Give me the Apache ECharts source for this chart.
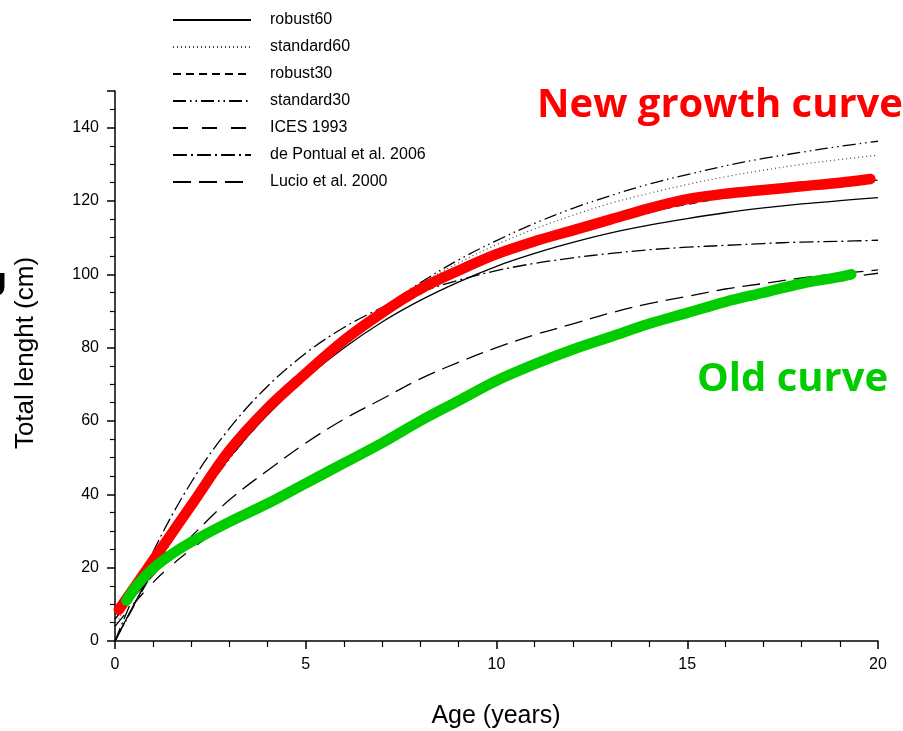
<!DOCTYPE html>
<html><head><meta charset="utf-8">
<script src="https://cdn.jsdelivr.net/npm/echarts@6/dist/echarts.min.js"></script>
<style>html,body{margin:0;padding:0;background:#fff}#c{width:903px;height:731px}</style>
</head><body><div id="c"></div>
<script>
const ages = [0,1,2,3,4,5,6,7,8,9,10,11,12,13,14,15,16,17,18,19,20];
const robust60   = [0,19.5,36,50,61.7,71.6,79.9,87,92.9,97.9,102.2,105.7,108.7,111.3,113.4,115.2,116.8,118.1,119.2,120.1,120.9];
const standard60 = [4,22.4,38.2,52,63.9,74.1,83,90.7,97.4,103.1,108.1,112.4,116.1,119.4,122.1,124.5,126.6,128.4,130,131.3,132.5];
const robust30   = [0,19.4,35.9,49.9,61.9,72.1,80.8,88.3,94.6,100,104.6,108.5,111.8,114.6,117,119.1,120.9,122.4,123.6,124.7,125.7];
const standard30 = [0,18.9,35.4,49.7,62.2,73,82.4,90.6,97.7,103.9,109.2,113.9,118,121.5,124.6,127.2,129.6,131.6,133.3,134.9,136.3];
const ices1993   = [4,16,25,32,37.5,43,48.5,54,60,65.5,71,75.5,79.5,83,86.5,89.5,92.5,95,97,98.8,100.3];
const dePontual  = [0,24.3,43.3,58,69.5,78.5,85.5,90.9,95.1,98.4,101,103,104.5,105.7,106.7,107.4,107.9,108.4,108.8,109,109.3];
const lucio      = [6,18,28.5,38.5,46.5,54,60.5,66,71.5,76,80,83.5,86.5,89.5,92,94,96,97.5,99,100.2,101.2];
const newAges  = [0.1,1,2,3,4,5,6,7,8,9,10,11,12,13,14,15,16,17,18,19,19.8];
const newCurve = [8.5,22,37,52,63.5,73,82,89.5,96,101,105.5,109,112,115,118,120.5,122,123,124,125,126];
const oldAges  = [0.3,0.6,1,1.5,2,3,4,5,6,7,8,9,10,11,12,13,14,15,16,17,18,19,19.3];
const oldCurve = [11,15.5,19.8,23.8,27,32.5,37.5,43,48.5,54,60,65.5,71,75.5,79.5,83,86.5,89.5,92.5,95,97.5,99.3,100];
const xTicks = [0,5,10,15,20];
const yTicks = [0,20,40,60,80,100,120,140];

const pairs = (xs, ys) => xs.map((x, i) => [x, ys[i]]);
const FONT = '"Liberation Sans", Arial, sans-serif';
function blk(name, vals, type, width, color) {
  return {
    name, type: 'line', data: pairs(ages, vals), symbol: 'none',
    smooth: 0.35, z: 3,
    lineStyle: { color: color || '#000', width: width || 1.2, type: type },
    itemStyle: { color: color || '#000' }
  };
}
const chart = echarts.init(document.getElementById('c'), null, { renderer: 'canvas' });
chart.setOption({
  animation: false,
  backgroundColor: '#fff',
  grid: { left: 115, right: 25, top: 91, bottom: 90, containLabel: false },
  legend: {
    data: ['robust60','standard60','robust30','standard30','ICES 1993','de Pontual et al. 2006','Lucio et al. 2000'],
    orient: 'vertical', left: 172, top: 11, padding: 0,
    itemWidth: 78, itemHeight: 14, itemGap: 9, selectedMode: false,
    itemStyle: { opacity: 0, color: 'rgba(0,0,0,0)', borderWidth: 0 },
    textStyle: { fontFamily: FONT, fontSize: 16, color: '#000', lineHeight: 18, padding: [0,0,0,14] }
  },
  xAxis: {
    type: 'value', min: 0, max: 20, interval: 5,
    axisLine: { lineStyle: { color: '#000', width: 1.5 } },
    axisTick: { length: 8, lineStyle: { color: '#000', width: 1.5 } },
    minorTick: { show: true, splitNumber: 5, length: 6, lineStyle: { color: '#000', width: 1.2 } },
    axisLabel: { fontFamily: FONT, fontSize: 16, color: '#000', margin: 16,
      formatter: v => xTicks.includes(v) ? String(v) : '' },
    splitLine: { show: false }
  },
  yAxis: {
    type: 'value', min: 0, max: 150, interval: 20,
    axisLine: { show: true, lineStyle: { color: '#000', width: 1.5 } },
    axisTick: { show: true, length: 8, lineStyle: { color: '#000', width: 1.5 } },
    minorTick: { show: true, splitNumber: 4, length: 5, lineStyle: { color: '#000', width: 1.2 } },
    axisLabel: { fontFamily: FONT, fontSize: 16, color: '#000', margin: 16, showMaxLabel: false,
      formatter: v => yTicks.includes(v) ? String(v) : '' },
    splitLine: { show: false }
  },
  graphic: [
    { type: 'text', left: 537, top: 86, z: 10, style: { text: 'New growth curve', fill: '#ff0000',
      font: 'bold 40px "Open Sans", "Liberation Sans", sans-serif' } },
    { type: 'text', left: 697, top: 360, z: 10, style: { text: 'Old curve', fill: '#00cc00',
      font: 'bold 40px "Open Sans", "Liberation Sans", sans-serif' } },
    { type: 'text', x: 26, y: 353, rotation: Math.PI / 2, z: 10, style: { text: 'Total lenght (cm)', fill: '#000',
      font: '26px "Liberation Sans", Arial, sans-serif', align: 'center', verticalAlign: 'middle' } },
    { type: 'text', x: 496, y: 716, z: 10, style: { text: 'Age (years)', fill: '#000',
      font: '25px "Liberation Sans", Arial, sans-serif', align: 'center', verticalAlign: 'middle' } },
    { type: 'text', x: -18, y: 287, z: 10, style: { text: 'U', fill: '#000',
      font: 'bold 34px "Liberation Sans", Arial, sans-serif', align: 'left', verticalAlign: 'middle' } }
  ],
  series: [
    blk('robust60', robust60, 'solid', 1.3),
    blk('standard60', standard60, [1, 3], 1.2, '#444'),
    blk('robust30', robust30, [8, 5], 1.3),
    blk('standard30', standard30, [13, 4, 1.5, 4, 1.5, 4], 1.3),
    blk('ICES 1993', ices1993, [15, 14], 1.3),
    blk('de Pontual et al. 2006', dePontual, [14, 4, 2, 4], 1.3),
    blk('Lucio et al. 2000', lucio, [18, 8], 1.3),
    { name: 'new', type: 'line', data: pairs(newAges, newCurve), symbol: 'none', smooth: 0.35, z: 5,
      lineStyle: { color: '#ff0000', width: 10.5, cap: 'round' }, itemStyle: { color: '#ff0000' } },
    { name: 'old', type: 'line', data: pairs(oldAges, oldCurve), symbol: 'none', smooth: 0.35, z: 5,
      lineStyle: { color: '#00cc00', width: 10.5, cap: 'round' }, itemStyle: { color: '#00cc00' } }
  ]
});
</script></body></html>
